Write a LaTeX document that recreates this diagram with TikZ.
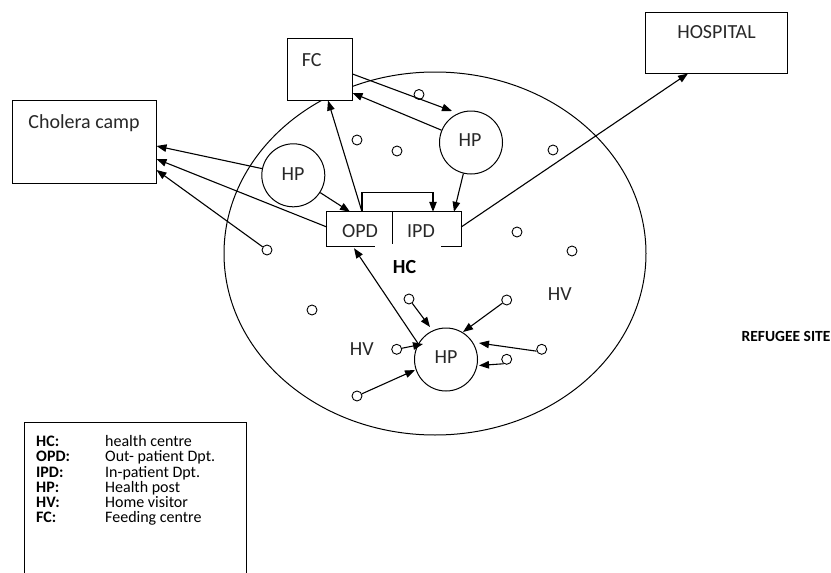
\documentclass[tikz,border=0pt]{standalone}
\usepackage{fontspec}
\setmainfont{Carlito}
\usetikzlibrary{arrows.meta,calc}
\definecolor{txt}{RGB}{40,40,40}
\begin{document}
\begin{tikzpicture}[x=1pt,y=-1pt,
  every node/.style={text=txt},
  lbl/.style={font=\fontsize{20}{24}\selectfont, anchor=base, inner sep=0pt},
  blbl/.style={font=\fontsize{20}{24}\selectfont\bfseries, anchor=base, inner sep=0pt, text=black},
  lgdk/.style={font=\fontsize{16}{19}\selectfont\bfseries, anchor=base west, inner sep=0pt, text=black},
  lgdv/.style={font=\fontsize{16}{19}\selectfont, anchor=base west, inner sep=0pt, text=black},
  boxnode/.style={draw, fill=white, line width=1pt, inner sep=0pt},
  post/.style={draw, circle, fill=white, line width=1pt, minimum size=63pt, inner sep=0pt},
  dot/.style={draw, circle, fill=white, line width=0.9pt, minimum size=10pt, inner sep=0pt},
  part/.style={inner sep=0pt, minimum height=34pt},
  conn/.style={line width=1.1pt, -{Triangle[length=10pt,width=7.5pt]}},
]
\useasboundingbox (0,0) rectangle (831,573);
\fill[white] (0,0) rectangle (831,573);

% refugee site / health centre area
\draw[line width=1pt] (435,253.5) ellipse [x radius=211pt, y radius=181.5pt];

% boxes
\node[boxnode, minimum width=65pt, minimum height=62pt] (fc) at (319.5,69) {};
\node[boxnode, minimum width=144pt, minimum height=83pt] (cc) at (84,141.5) {};
\node[boxnode, minimum width=142pt, minimum height=61pt] (hosp) at (716,42.5) {};

% health posts
\node[post] (hp1) at (293.3,175.3) {};
\node[post] (hp2) at (471,142.5) {};
\node[post] (hp3) at (446,359.5) {};

% OPD / IPD
\node[part, minimum width=65pt] (opd) at (359.5,229) {};
\node[part, minimum width=69pt] (ipd) at (426.5,229) {};
\draw[line width=1pt] ([xshift=48pt]opd.south west) -- (opd.south west) -- (opd.north west)
  -- (ipd.north east) -- (ipd.south east) -- ([xshift=-20pt]ipd.south east);
\draw[line width=1pt] (opd.north east) -- ([yshift=2pt]opd.south east);

% home visitors (small circles)
\node[dot] (d1) at (267,250) {};
\node[dot] (d2) at (357,140) {};
\node[dot] (d3) at (397,151) {};
\node[dot] (d4) at (419,94.5) {};
\node[dot] (d5) at (553,150) {};
\node[dot] (d6) at (517,232) {};
\node[dot] (d7) at (572,251) {};
\node[dot] (d8) at (312,310) {};
\node[dot] (d9) at (409,299) {};
\node[dot] (d10) at (506.7,300) {};
\node[dot] (d11) at (396.7,349.3) {};
\node[dot] (d12) at (541.7,349.3) {};
\node[dot] (d13) at (506.7,359.3) {};
\node[dot] (d14) at (357,396) {};

% texts
\node[lbl] (fct) at (311.7,66.5) {FC};
\node[lbl] (cct) at (84,128.7) {Cholera camp};
\node[lbl] (hospt) at (716.5,38.3) {HOSPITAL};
\node[lbl] (hp1t) at (293,180) {HP};
\node[lbl] (hp2t) at (470,146) {HP};
\node[lbl] (hp3t) at (446,363.3) {HP};
\node[lbl] (opdt) at (360,237.3) {OPD};
\node[lbl] (ipdt) at (421,237.3) {IPD};
\node[blbl] (hct) at (404.5,273.3) {HC};
\node[lbl] (hv1) at (361.7,355.7) {HV};
\node[lbl] (hv2) at (559.7,300.7) {HV};
\node[font=\fontsize{15.5}{18}\selectfont\bfseries, anchor=base, inner sep=0pt, text=black] (rst) at (786,341) {REFUGEE SITE};

% connectors
\draw[conn] ([xshift=2.5pt]opd.north) -- ([xshift=8.5pt]fc.south);
\draw[conn] ([xshift=2.5pt]opd.north) -- ++(0,-19) -| ([xshift=6.5pt]ipd.north);
\draw[conn] (hp1) -- ([xshift=-9.5pt]opd.north);
\draw[conn] (hp1) -- ([yshift=-4.5pt]cc.east);
\draw[conn] ([yshift=2pt]opd.west) -- ([yshift=-17.5pt]cc.east);
\draw[conn] (d1) -- ([yshift=-28.5pt]cc.east);
\draw[conn] ([yshift=-5pt]fc.east) -- ($(hp2)+(-19,-31.5)$);
\draw[conn] (hp2) -- ([yshift=-24pt]fc.east);
\draw[conn] (hp2) -- ([xshift=27.5pt]ipd.north);
\draw[conn] ([yshift=2pt]ipd.east) -- ([xshift=-28pt]hosp.south);
\draw[conn] ($(hp3)+(-27.5,-15.3)$) -- ([xshift=-5.5pt,yshift=-2pt]opd.south);
\draw[conn] (d9) -- ($(hp3)+(-16,-32.5)$);
\draw[conn] (d10) -- ($(hp3)+(17,-27.5)$);
\draw[conn] (d12.200) -- ($(hp3)+(33,-16.5)$);
\draw[conn] (d13.235) -- ($(hp3)+(33,6)$);
\draw[conn] (d11) -- ($(hp3)+(-23,-15.5)$);
\draw[conn] (d14) -- ($(hp3)+(-31,10.5)$);

% legend
\draw[line width=0.9pt] (24,573) -- (24,422) -- (246,422) -- (246,573);
\node[lgdk] (k1) at (36,446.7) {HC:};
\node[lgdv] (v1) at (105,446.7) {health centre};
\node[lgdk] (k2) at (36,461.9) {OPD:};
\node[lgdv] (v2) at (105,461.9) {Out- patient Dpt.};
\node[lgdk] (k3) at (36,477.1) {IPD:};
\node[lgdv] (v3) at (105,477.1) {In-patient Dpt.};
\node[lgdk] (k4) at (36,492.3) {HP:};
\node[lgdv] (v4) at (105,492.3) {Health post};
\node[lgdk] (k5) at (36,507.5) {HV:};
\node[lgdv] (v5) at (105,507.5) {Home visitor};
\node[lgdk] (k6) at (36,522.7) {FC:};
\node[lgdv] (v6) at (105,522.7) {Feeding centre};
\end{tikzpicture}
\end{document}
